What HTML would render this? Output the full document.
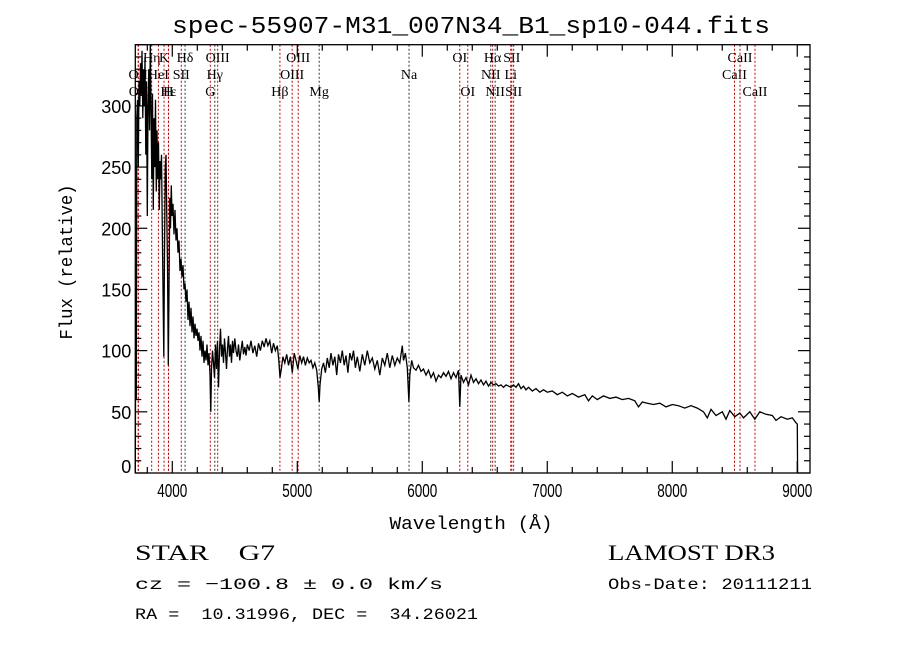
<!DOCTYPE html>
<html><head><meta charset="utf-8"><style>
html,body{margin:0;padding:0;background:#fff;}
svg{display:block;}
text{font-family:"Liberation Mono",monospace;fill:#000;}
.ser{font-family:"Liberation Serif",serif;}
.sans{font-family:"Liberation Sans",sans-serif;}
</style></head><body>
<svg id="chart" width="900" height="649" viewBox="0 0 900 649" xmlns="http://www.w3.org/2000/svg">
<rect x="0" y="0" width="900" height="649" fill="#fff"/>
<text x="471" y="33" text-anchor="middle" font-size="24" textLength="598" lengthAdjust="spacingAndGlyphs">spec-55907-M31_007N34_B1_sp10-044.fits</text>
<g id="lines"></g>
<g id="ticks"></g>
<polyline id="spec" fill="none" stroke="#000" stroke-width="1.3"/>
<rect x="135.3" y="44.7" width="674.7" height="428.3" fill="none" stroke="#000" stroke-width="1.3"/>
<text x="471" y="529" text-anchor="middle" font-size="18" textLength="163" lengthAdjust="spacingAndGlyphs">Wavelength (Å)</text>
<text transform="translate(72,262) rotate(-90)" text-anchor="middle" font-size="18" textLength="155" lengthAdjust="spacingAndGlyphs">Flux (relative)</text>
<text class="ser" x="135" y="560" font-size="22" textLength="140" lengthAdjust="spacingAndGlyphs" xml:space="preserve">STAR    G7</text>
<text class="ser" x="608" y="560" font-size="22" textLength="167" lengthAdjust="spacingAndGlyphs">LAMOST DR3</text>
<text x="135" y="589" font-size="16" textLength="308" lengthAdjust="spacingAndGlyphs">cz = −100.8 ± 0.0 km/s</text>
<text x="608" y="589" font-size="16" textLength="204" lengthAdjust="spacingAndGlyphs">Obs-Date: 20111211</text>
<text x="135" y="619" font-size="16" textLength="343" lengthAdjust="spacingAndGlyphs" xml:space="preserve">RA =  10.31996, DEC =  34.26021</text>
</svg>
<script>
const wavelengths=[3704,3708,3712,3716,3722,3728,3734,3740,3746,3752,3758,3764,3770,3776,3782,3788,3794,3800,3806,3812,3818,3824,3830,3836,3842,3848,3854,3860,3866,3872,3878,3884,3890,3896,3902,3908,3914,3920,3926,3932,3938,3944,3950,3956,3962,3968,3974,3980,3986,3992,3998,4006,4014,4022,4030,4038,4046,4054,4062,4070,4078,4086,4094,4102,4110,4118,4126,4134,4142,4150,4158,4166,4174,4182,4190,4198,4206,4214,4222,4230,4238,4246,4254,4262,4270,4278,4286,4294,4302,4308,4314,4322,4330,4338,4346,4354,4362,4370,4378,4386,4394,4402,4410,4418,4426,4434,4442,4450,4458,4466,4474,4482,4490,4500,4510,4520,4530,4540,4550,4560,4570,4580,4590,4600,4615,4630,4645,4660,4675,4690,4705,4720,4735,4750,4765,4780,4795,4810,4825,4840,4852,4862,4872,4885,4900,4915,4930,4945,4960,4975,4990,5005,5020,5035,5050,5065,5080,5095,5110,5125,5140,5155,5168,5175,5182,5195,5210,5225,5240,5255,5270,5285,5300,5315,5330,5345,5360,5375,5390,5405,5420,5435,5450,5465,5480,5500,5520,5540,5560,5580,5600,5620,5640,5660,5680,5700,5720,5740,5760,5780,5800,5820,5840,5850,5865,5880,5893,5900,5915,5930,5950,5970,5990,6010,6030,6050,6070,6090,6110,6130,6150,6170,6190,6210,6230,6250,6270,6290,6300,6310,6330,6350,6370,6390,6410,6430,6450,6470,6490,6510,6530,6550,6570,6590,6610,6630,6650,6670,6690,6710,6730,6750,6770,6790,6810,6830,6850,6880,6910,6940,6970,7000,7040,7080,7120,7160,7200,7250,7300,7330,7360,7400,7450,7500,7550,7600,7650,7700,7730,7760,7800,7850,7900,7950,8000,8050,8100,8150,8200,8250,8280,8310,8350,8400,8430,8460,8500,8540,8570,8620,8660,8700,8750,8800,8830,8870,8920,8960,8990,9000,9003];
const fluxes=[0,150,60,290,305,250,320,300,335,310,345,290,330,300,340,260,320,210,300,330,280,350,300,240,310,215,290,250,305,230,280,240,270,215,255,240,260,200,150,95,180,250,260,210,170,88,150,225,200,235,210,220,195,215,190,200,180,190,165,175,160,170,150,155,140,150,125,140,120,135,115,128,110,122,112,118,108,115,100,112,95,108,90,100,92,105,88,98,80,50,85,100,90,78,105,85,108,70,100,118,95,105,90,110,98,85,102,112,95,105,90,108,98,110,100,95,105,92,100,108,97,103,96,105,100,108,98,104,95,106,100,108,103,110,104,108,98,106,100,104,92,78,85,95,90,97,88,95,82,98,92,85,96,90,95,88,94,90,92,86,90,84,70,58,72,85,90,82,94,86,98,88,95,80,97,90,100,88,96,82,98,92,100,86,95,83,97,88,100,90,94,85,92,80,94,88,98,86,96,88,94,90,104,92,98,86,58,80,92,86,84,88,83,85,80,84,78,82,75,80,78,82,79,83,77,82,78,84,54,80,74,78,72,80,74,77,73,76,72,75,71,74,72,73,71,72,70,72,71,70,72,70,73,69,71,68,70,67,69,66,68,66,67,64,66,63,65,62,64,59,63,60,63,61,62,60,61,59,54,58,57,56,57,54,56,55,53,55,53,50,45,52,47,50,44,51,46,49,45,50,44,50,48,47,43,46,44,45,41,40,0];
const xTickValues=[4000,5000,6000,7000,8000,9000];
const xTickLabels=["4000","5000","6000","7000","8000","9000"];
const yTickValues=[0,50,100,150,200,250,300];
const yTickLabels=["0","50","100","150","200","250","300"];
const lineWaves=[3727,3729,3835,3889,3934,3969,3970,4072,4102,4304,4340,4363,4861,4959,5007,5175,5894,6300,6364,6548,6563,6583,6708,6716,6731,8498,8542,8662];
const lineNames=["OII","OII","Hη","HeI","K","H","Hε","SII","Hδ","G","Hγ","OIII","Hβ","OIII","OIII","Mg","Na","OI","OI","NII","Hα","NII","Li","SII","SII","CaII","CaII","CaII"];
const lineRows=[1,2,0,1,0,2,2,1,0,2,1,0,2,1,0,2,1,0,2,1,0,2,1,0,2,1,0,2];
const lineRed=[1,1,1,1,1,1,1,1,0,1,0,1,1,1,1,0,0,1,1,0,1,0,1,1,1,1,1,1];
const X0=3704,X1=9102,Y0=0,Y1=350,L=135.3,R=810,T=44.7,B=473;
function xs(w){return L+(w-X0)/(X1-X0)*(R-L);}
function ys(f){return B-(f-Y0)/(Y1-Y0)*(B-T);}
const NS="http://www.w3.org/2000/svg";
const spec=document.getElementById('spec');
spec.setAttribute('points',wavelengths.map((w,i)=>xs(w).toFixed(1)+','+ys(fluxes[i]).toFixed(1)).join(' '));
const lg=document.getElementById('lines');
const rowY=[62,79,96];
lineWaves.forEach((w,i)=>{
  const ln=document.createElementNS(NS,'line');
  ln.setAttribute('x1',xs(w));ln.setAttribute('x2',xs(w));
  ln.setAttribute('y1',T);ln.setAttribute('y2',B);
  ln.setAttribute('stroke',lineRed[i]?'#c00000':'#333');
  ln.setAttribute('stroke-width','1');
  ln.setAttribute('stroke-dasharray','2,2');
  
  
  lg.appendChild(ln);
  const t=document.createElementNS(NS,'text');
  t.setAttribute('x',xs(w));t.setAttribute('y',rowY[lineRows[i]]);
  t.setAttribute('text-anchor','middle');
  t.setAttribute('font-size','14');
  t.setAttribute('class','ser');
  t.textContent=lineNames[i];
  
  
  lg.appendChild(t);
});
const tg=document.getElementById('ticks');
function tick(x1,y1,x2,y2){const l=document.createElementNS(NS,'line');l.setAttribute('x1',x1);l.setAttribute('y1',y1);l.setAttribute('x2',x2);l.setAttribute('y2',y2);l.setAttribute('stroke','#000');l.setAttribute('stroke-width','1.2');


tg.appendChild(l);}
for(let w=3800;w<=9100;w+=200){const x=xs(w);const major=w%1000===0;const len=major?12:6;tick(x,B,x,B-len);tick(x,T,x,T+len);}
for(let f=0;f<=350;f+=10){const y=ys(f);const major=f%50===0;const len=major?12:6;tick(L,y,L+len,y);tick(R,y,R-len,y);}
xTickValues.forEach((v,i)=>{const t=document.createElementNS(NS,'text');t.setAttribute('x',xs(v));t.setAttribute('y',B+24);t.setAttribute('text-anchor','middle');t.setAttribute('font-size','18');t.setAttribute('class','sans');t.setAttribute('textLength','30');t.setAttribute('lengthAdjust','spacingAndGlyphs');t.textContent=xTickLabels[i];


tg.appendChild(t);});
yTickValues.forEach((v,i)=>{const t=document.createElementNS(NS,'text');t.setAttribute('x',L-4);t.setAttribute('y',Math.min(ys(v)+7,B));t.setAttribute('text-anchor','end');t.setAttribute('font-size','18');t.setAttribute('class','sans');t.textContent=yTickLabels[i];


tg.appendChild(t);});
</script>
</body></html>
